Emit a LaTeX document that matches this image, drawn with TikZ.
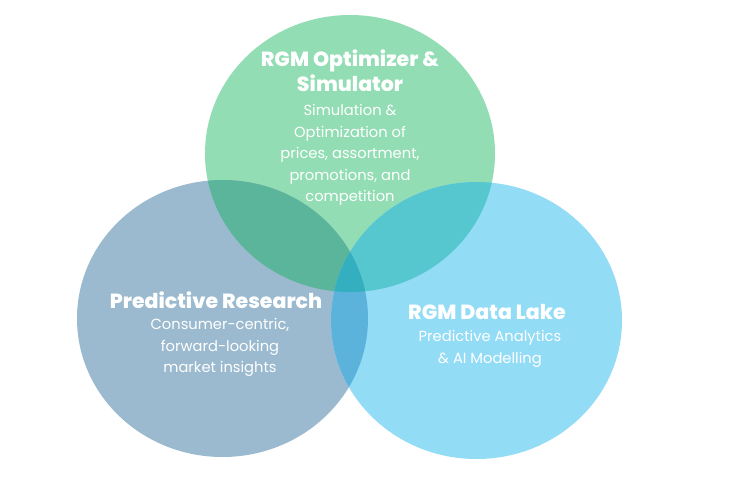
\documentclass[tikz,border=0pt]{standalone}
\usepackage{fontspec}
\setmainfont{Poppins}
\newfontfamily\headfont{Poppins}[UprightFont={* ExtraBold}]
\definecolor{optgreen}{HTML}{92DDB4}
\definecolor{resgrey}{HTML}{9BBACF}
\definecolor{lakeblue}{HTML}{93DCF6}
\definecolor{optres}{HTML}{5BB59B}
\definecolor{optlake}{HTML}{56C7CE}
\definecolor{reslake}{HTML}{5BB3DB}
\definecolor{allthree}{HTML}{33AFBF}
\tikzset{
  title/.style={text=white, font=\fontsize{20.5}{25}\selectfont\headfont, align=center},
  body/.style={text=white, font=\fontsize{14.7}{21.5}\selectfont, align=center}
}
\newcommand{\optshape}{(350,153.5) ellipse [x radius=145, y radius=138.5]}
\newcommand{\resshape}{(222.5,318.5) ellipse [x radius=145.5, y radius=138.5]}
\newcommand{\lakeshape}{(476.5,320.5) ellipse [x radius=145.5, y radius=138.5]}
\begin{document}
\begin{tikzpicture}[x=1pt,y=-1pt]

    % Fix the page size
    \useasboundingbox[fill=white] (0,0) rectangle (730,479);

    % Draw the three circles
    \fill[optgreen] \optshape;
    \fill[resgrey] \resshape;
    \fill[lakeblue] \lakeshape;

    % Draw the overlaps
    \begin{scope}
        \clip \optshape;
        \fill[optres] \resshape;
        \fill[optlake] \lakeshape;
    \end{scope}
    \begin{scope}
        \clip \resshape;
        \fill[reslake] \lakeshape;
        \clip \lakeshape;
        \fill[allthree] \optshape;
    \end{scope}

    % Place the texts
    \node[title] (optT) at (350,70.5) {RGM Optimizer \&\\Simulator};
    \node[body]  (optB) at (350,155) {Simulation \&\\Optimization of\\prices, assortment,\\promotions, and\\competition};

    \node[title] (resT) at (216,300) {Predictive Research};
    \node[body]  (resB) at (220,347.5) {Consumer-centric,\\forward-looking\\market insights};

    \node[title] (lakeT) at (487,312) {RGM Data Lake};
    \node[body]  (lakeB) at (490,349) {Predictive Analytics\\\& AI Modelling};

\end{tikzpicture}
\end{document}
